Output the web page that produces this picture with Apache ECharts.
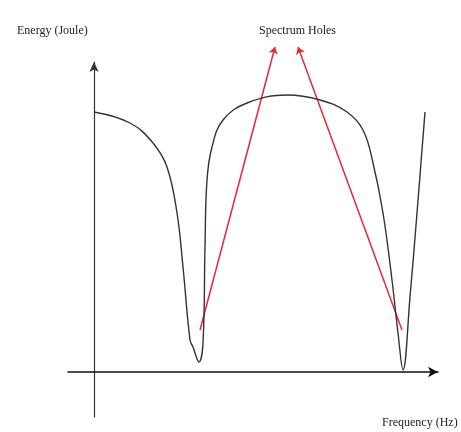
<!DOCTYPE html>
<html>
<head>
<meta charset="utf-8">
<script src="https://cdn.jsdelivr.net/npm/echarts@6/dist/echarts.min.js"></script>
<style>
  body { margin: 0; background: #fff; }
  #chart { width: 461px; height: 432px; }
</style>
</head>
<body>
<div id="chart"></div>
<script>
// energy spectrum (arbitrary units)
var freq = [0, 36, 59, 73, 83, 89, 96, 99, 105, 109, 111, 113, 118, 129, 153, 193, 226, 253, 269, 279, 289, 298, 304, 309, 316, 323, 331]
var energy = [260, 249, 229, 205, 159, 105, 32, 25, 10, 29, 125, 192, 225, 252, 269, 277, 272, 260, 242, 209, 159, 92, 39, 2, 75, 159, 260]

// red pointers: [start freq, start energy, tip freq, tip energy]
var holeArrows = [
  [106, 42, 181, 325],
  [308, 42, 204, 325]
]

var curve = freq.map(function (f, i) { return [f, energy[i]] })

var chart = echarts.init(document.getElementById('chart'))
var serif = '"Liberation Serif", "DejaVu Serif", serif'

var option = {
  backgroundColor: '#fff',
  animation: false,
  title: [
    { text: 'Energy (Joule)', left: 12, top: 20, textStyle: { fontFamily: serif, fontSize: 12, fontWeight: 'normal', color: '#222' } },
    { text: 'Spectrum Holes', left: 254, top: 20, textStyle: { fontFamily: serif, fontSize: 12, fontWeight: 'normal', color: '#222' } },
    { text: 'Frequency (Hz)', left: 377, top: 412, textStyle: { fontFamily: serif, fontSize: 12, fontWeight: 'normal', color: '#222' } }
  ],
  grid: { left: 68, right: 23, top: 62, bottom: 15 },
  xAxis: {
    type: 'value',
    min: -26,
    max: 344,
    axisLine: { onZero: true, symbol: ['none', 'arrow'], symbolSize: [8, 10], lineStyle: { color: '#111', width: 1.5 } },
    axisTick: { show: false },
    axisLabel: { show: false },
    splitLine: { show: false }
  },
  yAxis: {
    type: 'value',
    min: -45,
    max: 310,
    axisLine: { show: true, onZero: true, symbol: ['none', 'arrow'], symbolSize: [7, 10], lineStyle: { color: '#333', width: 1.2 } },
    axisTick: { show: false },
    axisLabel: { show: false },
    splitLine: { show: false }
  },
  series: [
    {
      type: 'line',
      data: curve,
      smooth: 0.4,
      showSymbol: false,
      lineStyle: { color: '#333', width: 1.4 }
    },
    {
      type: 'lines',
      coordinateSystem: 'cartesian2d',
      clip: false,
      silent: true,
      symbol: ['none', 'arrow'],
      symbolSize: 7,
      lineStyle: { color: '#e5283a', width: 1.5, opacity: 1 },
      data: holeArrows.map(function (a) {
        return { coords: [[a[0], a[1]], [a[2], a[3]]] }
      })
    }
  ]
}

chart.setOption(option)
</script>
</body>
</html>
